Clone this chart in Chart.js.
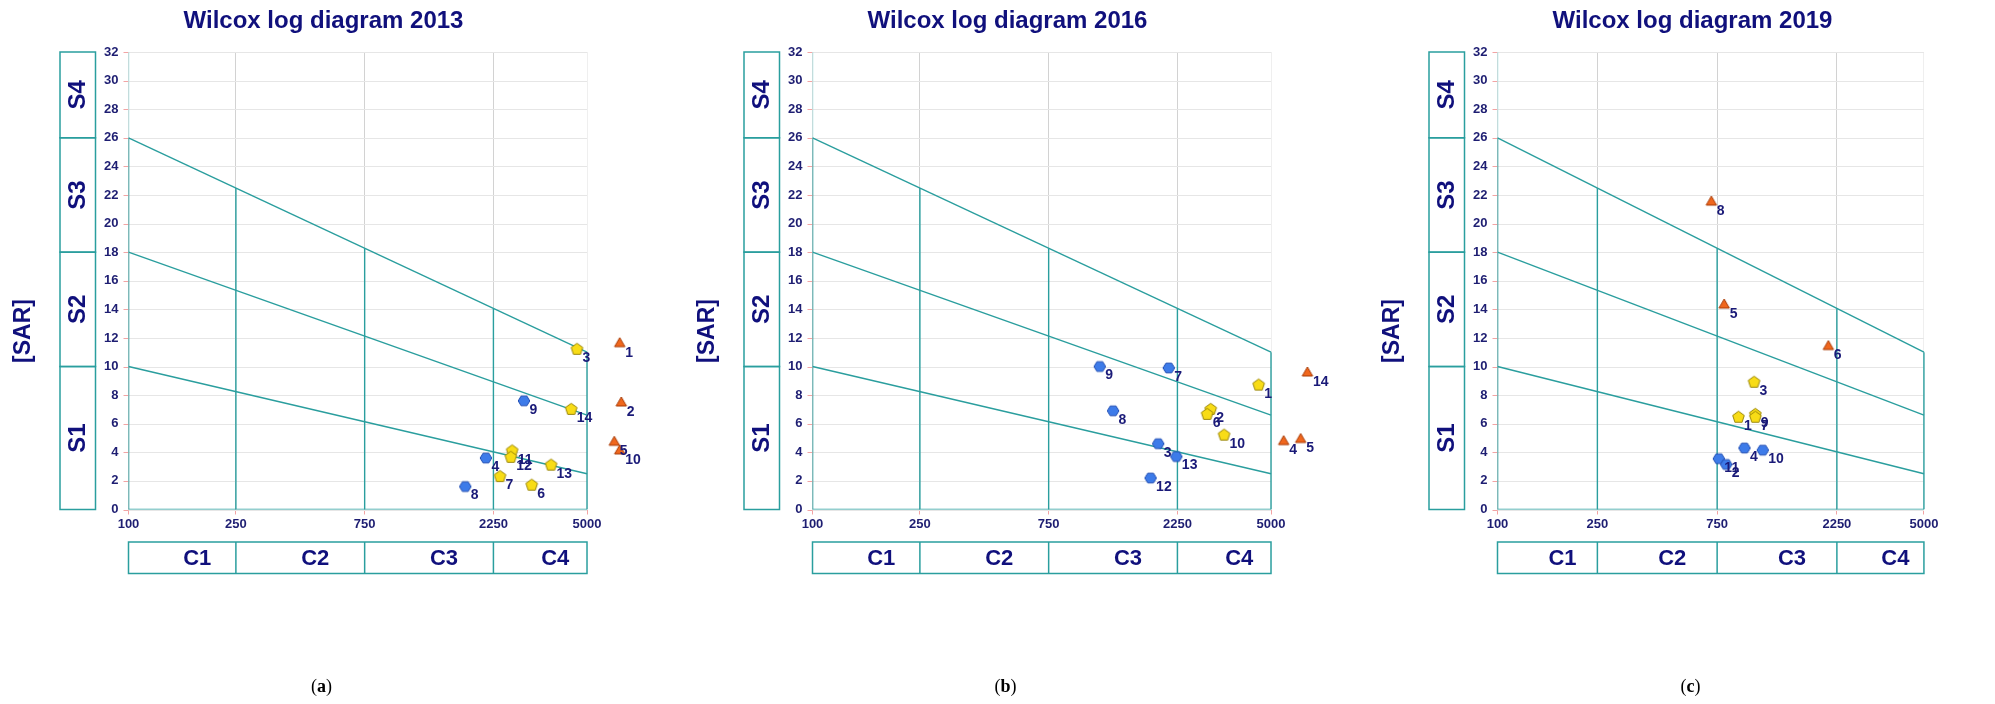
<!DOCTYPE html>
<html>
<head>
<meta charset="utf-8">
<title>Wilcox log diagrams</title>
<script src="https://cdn.jsdelivr.net/npm/chart.js@4/dist/chart.umd.min.js"></script>
<style>
  html, body { margin: 0; padding: 0; background: #ffffff; width: 1995px; height: 704px; overflow: hidden; }
  .panel { position: absolute; top: 0; }
</style>
</head>
<body>
<canvas id="chart2013" class="panel" style="left:0px" width="670" height="704"></canvas>
<canvas id="chart2016" class="panel" style="left:684px" width="670" height="704"></canvas>
<canvas id="chart2019" class="panel" style="left:1369px" width="626" height="704"></canvas>
<script>
// ---- axes and classes ----
const ecTickValues = [100, 250, 750, 2250, 5000];
const sarMin = 0;
const sarMax = 32;
const sarStep = 2;
const salinityLabels = ['C1', 'C2', 'C3', 'C4'];
const salinityBreaks = [250, 750, 2250];
const sodiumLabels = ['S1', 'S2', 'S3', 'S4'];
const sodiumBounds = [0, 10, 18, 26, 32];

// sodium hazard boundaries: SAR at EC = 100 and EC = 5000
const lineEC = [100, 5000];
const lineS1S2 = [10, 2.5];
const lineS2S3 = [18, 6.6];
const lineS3S4 = [26, 11];

// ---- samples 2013 ----
const hex2013Id  = [9, 4, 8];
const hex2013EC  = [2920, 2110, 1770];
const hex2013SAR = [7.6, 3.6, 1.6];
const pent2013Id  = [3, 14, 11, 12, 13, 7, 6];
const pent2013EC  = [4590, 4370, 2640, 2610, 3680, 2380, 3120];
const pent2013SAR = [11.2, 7.0, 4.1, 3.65, 3.1, 2.3, 1.7];
const tri2013Id  = [1, 2, 5, 10];
const tri2013EC  = [6610, 6700, 6310, 6610];
const tri2013SAR = [11.6, 7.45, 4.7, 4.1];

// ---- samples 2016 ----
const hex2016Id  = [9, 7, 8, 3, 13, 12];
const hex2016EC  = [1160, 2090, 1300, 1910, 2230, 1790];
const hex2016SAR = [10.0, 9.9, 6.9, 4.6, 3.7, 2.2];
const pent2016Id  = [1, 2, 6, 10];
const pent2016EC  = [4500, 2990, 2900, 3350];
const pent2016SAR = [8.7, 7.0, 6.65, 5.2];
const tri2016Id  = [14, 4, 5];
const tri2016EC  = [6820, 5570, 6440];
const tri2016SAR = [9.55, 4.75, 4.9];

// ---- samples 2019 ----
const hex2019Id  = [4, 10, 11, 2];
const hex2019EC  = [964, 1140, 762, 815];
const hex2019SAR = [4.3, 4.15, 3.55, 3.15];
const pent2019Id  = [3, 1, 9, 7];
const pent2019EC  = [1053, 912, 1065, 1065];
const pent2019SAR = [8.9, 6.45, 6.65, 6.45];
const tri2019Id  = [8, 5, 6];
const tri2019EC  = [711, 800, 2080];
const tri2019SAR = [21.5, 14.3, 11.4];

// ---- styling ----
const TEAL = '#2a9e9e';
const AXIS_TOP = '#b4e6e6';
const NAVY = '#10107c';
const TICK_NAVY = '#1e1e72';
const GRID = '#e6e6e6';
const TICK_MARK = '#f2a4a4';
const FONT = '"Liberation Sans", Arial, sans-serif';

function makeSprite(sides, rx, ry, rot, fill, stroke) {
  const c = document.createElement('canvas');
  c.width = Math.ceil(rx * 2 + 4);
  c.height = Math.ceil(ry * 2 + 4);
  const g = c.getContext('2d');
  g.beginPath();
  for (let i = 0; i < sides; i++) {
    const a = rot + i * 2 * Math.PI / sides;
    const px = c.width / 2 + Math.cos(a) * rx;
    const py = c.height / 2 + Math.sin(a) * ry;
    if (i === 0) g.moveTo(px, py); else g.lineTo(px, py);
  }
  g.closePath();
  g.fillStyle = fill;
  g.fill();
  g.lineWidth = 1;
  g.strokeStyle = stroke;
  g.stroke();
  return c;
}

const hexSprite  = makeSprite(6, 5.8, 5.6, 0, '#3d7be9', '#1e4cb3');
const pentSprite = makeSprite(5, 6.1, 6.1, -Math.PI / 2, '#f8dc16', '#9a8608');
const triSprite  = makeSprite(3, 6.0, 6.0, -Math.PI / 2, '#f0671d', '#a83a05');

function boundaryAt(line, ec) {
  const t = Math.log10(ec / lineEC[0]) / Math.log10(lineEC[1] / lineEC[0]);
  return line[0] + (line[1] - line[0]) * t;
}

function segment(points, color, width) {
  return {
    type: 'scatter',
    data: points.map(p => ({ x: p[0], y: p[1] })),
    showLine: true,
    borderColor: color,
    borderWidth: width || 1.4,
    pointRadius: 0,
    pointHoverRadius: 0,
    fill: false,
    order: 10
  };
}

function frameDatasets() {
  const sets = [];
  const ecRight = lineEC[1];
  // sloping class boundaries
  [lineS1S2, lineS2S3, lineS3S4].forEach(l => {
    sets.push(segment([[lineEC[0], l[0]], [lineEC[1], l[1]]], TEAL));
  });
  // salinity class dividers up to the S3/S4 boundary
  salinityBreaks.forEach(v => {
    sets.push(segment([[v, sarMin], [v, boundaryAt(lineS3S4, v)]], TEAL));
  });
  sets.push(segment([[ecRight, sarMin], [ecRight, lineS3S4[1]]], TEAL));
  // axis lines
  sets.push(segment([[lineEC[0], sarMin], [ecRight, sarMin]], TEAL, 1.6));
  sets.push(segment([[lineEC[0], sarMin], [lineEC[0], lineS3S4[0]]], TEAL, 1.6));
  sets.push(segment([[lineEC[0], lineS3S4[0]], [lineEC[0], sarMax]], AXIS_TOP, 1.6));
  return sets;
}

function sampleDataset(ids, ec, sar, sprite) {
  return {
    type: 'scatter',
    data: ec.map((x, i) => ({ x: x, y: sar[i] })),
    ids: ids,
    pointStyle: sprite,
    pointRadius: 6,
    pointHoverRadius: 6,
    order: 0
  };
}

// horizontal grid lines and y tick marks, limited to the 100-5000 span
const gridPlugin = {
  id: 'sarGrid',
  beforeDatasetsDraw(chart) {
    const ctx = chart.ctx;
    const xs = chart.scales.x, ys = chart.scales.y;
    const x0 = xs.getPixelForValue(ecTickValues[0]);
    const x1 = xs.getPixelForValue(ecTickValues[ecTickValues.length - 1]);
    ctx.save();
    ys.ticks.forEach(t => {
      const y = Math.round(ys.getPixelForValue(t.value)) + 0.5;
      ctx.strokeStyle = GRID;
      ctx.lineWidth = 1;
      ctx.beginPath(); ctx.moveTo(x0, y); ctx.lineTo(x1, y); ctx.stroke();
      ctx.strokeStyle = TICK_MARK;
      ctx.beginPath(); ctx.moveTo(x0 - 5, y); ctx.lineTo(x0, y); ctx.stroke();
    });
    ctx.restore();
  }
};

// sample numbers beside each marker
const idPlugin = {
  id: 'sampleIds',
  afterDatasetsDraw(chart) {
    const ctx = chart.ctx;
    ctx.save();
    ctx.fillStyle = '#1a1a78';
    ctx.font = 'bold 14px ' + FONT;
    ctx.textAlign = 'left';
    ctx.textBaseline = 'middle';
    chart.data.datasets.forEach((ds, i) => {
      if (!ds.ids) return;
      chart.getDatasetMeta(i).data.forEach((pt, j) => {
        ctx.fillText(String(ds.ids[j]), pt.x + 5.5, pt.y + 9);
      });
    });
    ctx.restore();
  }
};

// title, class boxes, axis caption and panel letter
const framePlugin = {
  id: 'wilcoxFrame',
  afterDraw(chart) {
    const o = chart.options.plugins.wilcoxFrame;
    const ctx = chart.ctx;
    const xs = chart.scales.x, ys = chart.scales.y;
    const left = xs.getPixelForValue(ecTickValues[0]);
    const right = xs.getPixelForValue(ecTickValues[ecTickValues.length - 1]);
    ctx.save();

    ctx.fillStyle = NAVY;
    ctx.font = 'bold 24px ' + FONT;
    ctx.textAlign = 'center';
    ctx.textBaseline = 'middle';
    ctx.fillText(o.title, left + 195, 21);

    // sodium (S) boxes
    ctx.strokeStyle = TEAL;
    ctx.lineWidth = 1.5;
    const bx0 = 60, bx1 = 95.5;
    for (let i = 0; i < sodiumLabels.length; i++) {
      const yb = ys.getPixelForValue(sodiumBounds[i]);
      const yt = ys.getPixelForValue(sodiumBounds[i + 1]);
      ctx.strokeRect(bx0, yt, bx1 - bx0, yb - yt);
      ctx.save();
      ctx.translate((bx0 + bx1) / 2, (yt + yb) / 2);
      ctx.rotate(-Math.PI / 2);
      ctx.fillStyle = NAVY;
      ctx.font = 'bold 24px ' + FONT;
      ctx.fillText(sodiumLabels[i], 0, 1);
      ctx.restore();
    }

    // salinity (C) boxes
    const cy0 = 542, cy1 = 573.5;
    const edges = [ecTickValues[0]].concat(salinityBreaks, [ecTickValues[ecTickValues.length - 1]]);
    ctx.strokeRect(left, cy0, right - left, cy1 - cy0);
    salinityBreaks.forEach(v => {
      const x = xs.getPixelForValue(v);
      ctx.beginPath(); ctx.moveTo(x, cy0); ctx.lineTo(x, cy1); ctx.stroke();
    });
    ctx.font = 'bold 22px ' + FONT;
    for (let i = 0; i < salinityLabels.length; i++) {
      const xa = xs.getPixelForValue(edges[i]);
      const xb = xs.getPixelForValue(edges[i + 1]);
      ctx.fillText(salinityLabels[i], (xa + xb) / 2 + 15, (cy0 + cy1) / 2 + 1);
    }

    // y axis caption
    ctx.save();
    ctx.translate(24, 331);
    ctx.rotate(-Math.PI / 2);
    ctx.font = 'bold 23px ' + FONT;
    ctx.fillText('[SAR]', 0, 0);
    ctx.restore();

    // panel letter "(a)"
    ctx.fillStyle = '#000000';
    ctx.textAlign = 'left';
    const serifN = '18px "Liberation Serif", "DejaVu Serif", serif';
    const serifB = 'bold 18px "Liberation Serif", "DejaVu Serif", serif';
    ctx.font = serifN; const wOpen = ctx.measureText('(').width; const wClose = ctx.measureText(')').width;
    ctx.font = serifB; const wLetter = ctx.measureText(o.letter).width;
    let px = left + 193 - (wOpen + wLetter + wClose) / 2;
    const py = 687;
    ctx.font = serifN; ctx.fillText('(', px, py); px += wOpen;
    ctx.font = serifB; ctx.fillText(o.letter, px, py); px += wLetter;
    ctx.font = serifN; ctx.fillText(')', px, py);

    ctx.restore();
  }
};

function buildChart(canvasId, title, letter, groups, rightPad) {
  const datasets = frameDatasets().concat(
    sampleDataset(groups.hex[0], groups.hex[1], groups.hex[2], hexSprite),
    sampleDataset(groups.pent[0], groups.pent[1], groups.pent[2], pentSprite),
    sampleDataset(groups.tri[0], groups.tri[1], groups.tri[2], triSprite)
  );
  return new Chart(document.getElementById(canvasId), {
    type: 'scatter',
    data: { datasets: datasets },
    plugins: [gridPlugin, idPlugin, framePlugin],
    options: {
      responsive: false,
      animation: false,
      events: [],
      layout: { padding: { left: 88.5, right: rightPad, top: 52, bottom: 170.5 } },
      plugins: {
        legend: { display: false },
        tooltip: { enabled: false },
        title: { display: false },
        wilcoxFrame: { title: title, letter: letter }
      },
      scales: {
        x: {
          type: 'logarithmic',
          min: 100,
          max: 9000,
          afterBuildTicks: axis => { axis.ticks = ecTickValues.map(v => ({ value: v })); },
          afterFit: axis => { axis.height = 24; },
          ticks: {
            callback: v => String(v),
            autoSkip: false,
            maxRotation: 0,
            padding: 2,
            color: TICK_NAVY,
            font: { family: FONT, size: 13, weight: 'bold' }
          },
          grid: {
            color: c => (c.tick && c.tick.value === 5000) ? '#efefef' : '#d2d2d2',
            lineWidth: 1,
            drawTicks: true,
            tickLength: 5,
            tickColor: TICK_MARK
          },
          border: { display: false }
        },
        y: {
          min: sarMin,
          max: sarMax,
          afterFit: axis => { axis.width = 40; },
          ticks: {
            stepSize: sarStep,
            padding: 10,
            color: TICK_NAVY,
            font: { family: FONT, size: 13, weight: 'bold' }
          },
          grid: { display: false, drawTicks: false },
          border: { display: false }
        }
      }
    }
  });
}

buildChart('chart2013', 'Wilcox log diagram 2013', 'a', {
  hex: [hex2013Id, hex2013EC, hex2013SAR],
  pent: [pent2013Id, pent2013EC, pent2013SAR],
  tri: [tri2013Id, tri2013EC, tri2013SAR]
}, 670 - 128.5 - 527.4);

buildChart('chart2016', 'Wilcox log diagram 2016', 'b', {
  hex: [hex2016Id, hex2016EC, hex2016SAR],
  pent: [pent2016Id, pent2016EC, pent2016SAR],
  tri: [tri2016Id, tri2016EC, tri2016SAR]
}, 670 - 128.5 - 527.4);

buildChart('chart2019', 'Wilcox log diagram 2019', 'c', {
  hex: [hex2019Id, hex2019EC, hex2019SAR],
  pent: [pent2019Id, pent2019EC, pent2019SAR],
  tri: [tri2019Id, tri2019EC, tri2019SAR]
}, 626 - 128.5 - 527.4);
</script>
</body>
</html>
